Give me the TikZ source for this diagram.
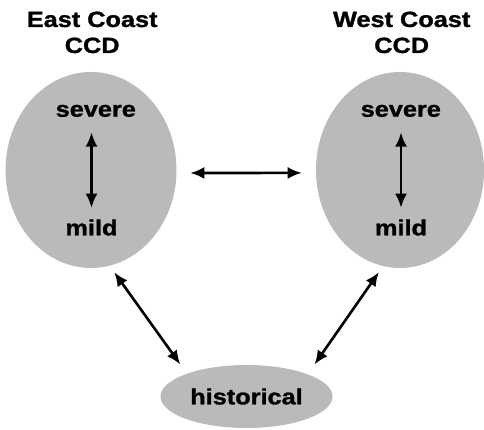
\documentclass[tikz,border=0pt]{standalone}
\usepackage{fontspec}
\setmainfont{Liberation Sans}[BoldFeatures={FakeBold=1.2}]
\usetikzlibrary{arrows.meta,shapes.geometric,positioning}

\newcommand{\stretchx}[1]{\scalebox{1.15}[1]{#1}}

\begin{document}
\begin{tikzpicture}
  [x=1pt,y=1pt,
  >={Latex[length=14pt,width=12pt]},
  region/.style={ellipse,fill=black!27,inner sep=0pt},
  title/.style={font=\fontsize{22}{26}\selectfont\bfseries,align=center,inner sep=0pt},
  level/.style={font=\fontsize{22}{26}\selectfont\bfseries,inner sep=0pt},
  link/.style={<->,line width=2.6pt}]

\useasboundingbox (0,0) rectangle (484,430);

% regions
\node[region,minimum width=171pt,minimum height=196pt] (east) at (91,260) {};
\node[region,minimum width=168pt,minimum height=196pt] (west) at (400,260) {};
\node[region,minimum width=172pt,minimum height=63pt] (hist) at (246.5,33.5) {};

% titles
\node[title] (east-title) at (92.2,397.6) {\stretchx{East Coast}\\\stretchx{CCD}};
\node[title] (west-title) at (401.7,397.6) {\stretchx{West Coast}\\\stretchx{CCD}};

% severity levels
\node[level] (east-severe) at (95.8,319.1) {\stretchx{severe}};
\node[level] (east-mild) at (91.5,202.5) {\stretchx{mild}};
\node[level] (west-severe) at (400.8,319.1) {\stretchx{severe}};
\node[level] (west-mild) at (401,202.5) {\stretchx{mild}};
\node[level] (hist-label) at (hist) {\stretchx{historical}};

\draw [link,shorten <=15.4pt,shorten >=11.5pt] (east-severe.south -| east-mild) -- (east-mild.north);
\draw [link,shorten <=15.4pt,shorten >=11.5pt] (west-severe.south -| west-mild) -- (west-mild.north);

% connections between regions
\draw [link,shorten <=13.6pt,shorten >=14.1pt] (east.-2) -- (west.182);
\draw [link,shorten <=7.9pt,shorten >=11.3pt] (east.-79.1) -- (hist.159);
\draw [link,shorten <=7.3pt,shorten >=11.8pt] (west.260.1) -- (hist.20.35);

\end{tikzpicture}
\end{document}
